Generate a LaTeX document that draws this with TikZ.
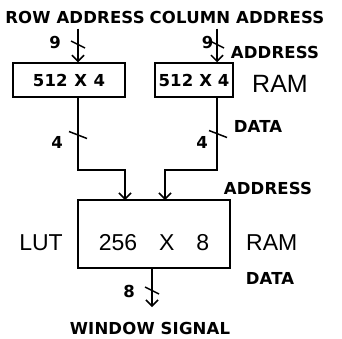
\documentclass[tikz,border=0pt]{standalone}
\usepackage{fontspec}
\setmainfont{Liberation Sans}
\newfontfamily\plotfont[LetterSpace=1]{DejaVu Sans}
\usetikzlibrary{arrows.meta, positioning}
\tikzset{
    >={Straight Barb[length=6pt, width=12pt]},
    % Labels
    plotlbl/.style={font=\plotfont\bfseries\fontsize{16.5}{16.5}\selectfont,
                    inner sep=0pt, text height=12pt, text depth=0pt},
    txtlbl/.style={font=\fontsize{23}{23}\selectfont,
                   inner sep=0pt, text height=16.5pt, text depth=0pt},
    % Shapes
    ram/.style={rectangle, draw, line width=1.5pt, minimum height=34pt, plotlbl},
    lutbox/.style={rectangle, draw, line width=1.5pt, minimum width=152pt,
                   minimum height=68pt, txtlbl, text height=32pt},
    % Flow
    bus/.style={line width=1.5pt},
    busmark/.style={line width=1.5pt}
}

\begin{document}
\begin{tikzpicture}[x=1pt, y=-1pt]
\useasboundingbox (0,0) rectangle (342,338);

\node[plotlbl] (rowaddr) at (75,17.5) {ROW ADDRESS};
\node[plotlbl] (coladdr) at (237,17.5) {COLUMN ADDRESS};

\node[ram, minimum width=112pt] (ramrow) at (69,80) {512\hspace{0.4em}X\hspace{0.4em}4};
\node[ram, minimum width=78pt] (ramcol) at (194,80) {512 X 4};
\node[txtlbl, font=\fontsize{25}{25}\selectfont, anchor=west] (ramtop) at (252,84.5) {RAM};
\node[plotlbl] (addrtop) at (275,52) {ADDRESS};
\node[plotlbl] (datatop) at (258,126) {DATA};

\node[lutbox] (lut) at (154,234) {256\hspace{0.95em}X\hspace{0.95em}8};
\node[txtlbl, anchor=east] (lutlbl) at (63,242) {LUT};
\node[txtlbl, anchor=west] (ramlow) at (246,242) {RAM};
\node[plotlbl] (addrlow) at (268,188) {ADDRESS};
\node[plotlbl] (datalow) at (270,278) {DATA};

\node[plotlbl] (winsig) at (150,328) {WINDOW SIGNAL};

% bus widths
\node[plotlbl] (nrow) at (55,42) {9};
\node[plotlbl] (ncol) at (207.5,42.5) {9};
\node[plotlbl] (nrowd) at (57,142) {4};
\node[plotlbl] (ncold) at (202,142) {4};
\node[plotlbl] (nout) at (129,291) {8};

\coordinate (rowbend) at (78,170);
\coordinate (colbend) at (217,170);
\coordinate (lutrow) at (125,200);
\coordinate (lutcol) at (165,200);
\coordinate (winout) at (152,307);

\draw[bus, ->, shorten <=5pt] (rowaddr.south -| rowbend) -- (ramrow.north -| rowbend);
\draw[bus, ->, shorten <=5pt] (coladdr.south -| colbend) -- (ramcol.north -| colbend);
\draw[bus, ->] (ramrow.south -| rowbend) -- (rowbend) -| (lutrow);
\draw[bus, ->] (ramcol.south -| colbend) -- (colbend) -| (lutcol);
\draw[bus, ->] (lut.south -| winout) -- (winout);

\draw[busmark] (71,41) -- (85,48);
\draw[busmark] (210,41) -- (224,48);
\draw[busmark] (69,131.5) -- (87,138.5);
\draw[busmark] (209,130.5) -- (227,137.5);
\draw[busmark] (145,287) -- (159,294);

\end{tikzpicture}
\end{document}
